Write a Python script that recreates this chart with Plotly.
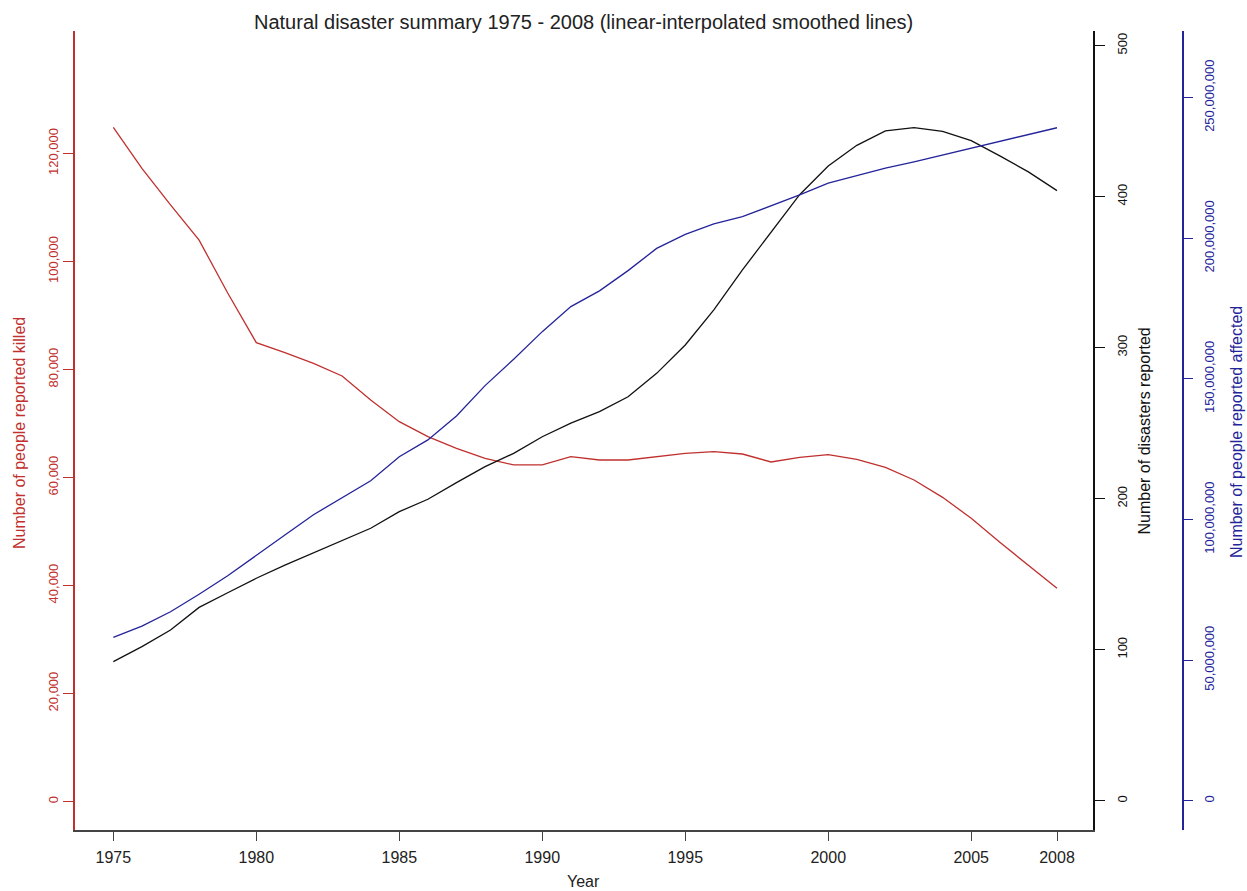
"""
Natural disaster summary 1975 - 2008, three y axes.
"""
import plotly.graph_objects as go

# Datos
years = list(range(1975, 2009))

killed = [124850, 117260, 110480, 103950, 94170, 84970, 83120, 81140, 78800, 74350,
          70340, 67560, 65410, 63560, 62320, 62320, 63850, 63240, 63240, 63850,
          64480, 64780, 64350, 62870, 63740, 64230, 63370, 61890, 59540, 56330,
          52450, 48000, 43800, 39480]

disasters = [92.1, 102, 113, 128, 137.7, 147.3, 156, 164.2, 172.6, 180.4,
             191.4, 199.6, 210.6, 221.2, 230, 241, 250, 257.6, 267.5, 283,
             301.8, 325, 351.5, 376.8, 401.3, 420.3, 434, 443.5, 445.7, 443.3,
             437.1, 427, 416.4, 404]

affected = [58.1, 62.1, 67.2, 73.4, 80.0, 87.4, 94.5, 101.7, 107.9, 113.8,
            122.3, 128.3, 136.8, 147.6, 157.0, 166.8, 175.7, 181.3, 188.5, 196.4,
            201.4, 205.1, 207.7, 211.5, 215.4, 219.6, 222.2, 224.9, 227.2, 229.6,
            232.0, 234.4, 236.8, 239.3]
affected = [v * 1e6 for v in affected]

x_ticks = [1975, 1980, 1985, 1990, 1995, 2000, 2005, 2008]
killed_ticks = [0, 20000, 40000, 60000, 80000, 100000, 120000]
disaster_ticks = [0, 100, 200, 300, 400, 500]
affected_ticks = [0, 50e6, 100e6, 150e6, 200e6, 250e6]

RED = "#c0302e"
BLACK = "#111111"
BLUE = "#24249a"
FONT = "Liberation Sans, Arial, sans-serif"

fig = go.Figure()
fig.add_trace(go.Scatter(x=years, y=killed, mode="lines", line=dict(color=RED, width=1.3),
                         yaxis="y", showlegend=False))
fig.add_trace(go.Scatter(x=years, y=disasters, mode="lines", line=dict(color=BLACK, width=1.3),
                         yaxis="y2", showlegend=False))
fig.add_trace(go.Scatter(x=years, y=affected, mode="lines", line=dict(color=BLUE, width=1.3),
                         yaxis="y3", showlegend=False))

# Ejes
fig.update_layout(
    width=1247, height=891,
    paper_bgcolor="white", plot_bgcolor="white",
    font=dict(family=FONT, color="#222"),
    margin=dict(l=75, r=64, t=31, b=61, autoexpand=False),
    xaxis=dict(domain=[0, 0.9188], range=[1973.66, 2009.26], tickvals=x_ticks,
               showline=True, linecolor="#444", linewidth=1.5, ticks="outside",
               ticklen=9, tickcolor="#444", showgrid=False, zeroline=False,
               tickfont=dict(size=16, color="#222"), ticklabelstandoff=3,
               automargin=False),
    yaxis=dict(range=[-5278, 142685], tickvals=killed_ticks, tickformat=",d",
               showline=True, linecolor=RED, linewidth=1.5, ticks="outside",
               ticklen=10, tickcolor=RED, tickangle=-90, showgrid=False,
               zeroline=False, tickfont=dict(size=13, color=RED), automargin=False),
    yaxis2=dict(range=[-19.4, 509.7], tickvals=disaster_ticks, overlaying="y",
                side="right", anchor="x", showline=True, linecolor=BLACK, linewidth=1.5,
                ticks="outside", ticklen=10, tickcolor=BLACK, tickangle=-90,
                showgrid=False, zeroline=False, tickfont=dict(size=13, color=BLACK),
                ticklabelstandoff=7, automargin=False),
    yaxis3=dict(range=[-10.4e6, 273.7e6], tickvals=affected_ticks, tickformat=",d",
                overlaying="y", side="right", anchor="free", position=1.0,
                showline=True, linecolor=BLUE, linewidth=1.5, ticks="outside",
                ticklen=9, tickcolor=BLUE, tickangle=-90, showgrid=False,
                zeroline=False, tickfont=dict(size=13, color=BLUE),
                ticklabelstandoff=6, automargin=False),
)

# Titulos
fig.add_annotation(text="Natural disaster summary 1975 - 2008 (linear-interpolated smoothed lines)",
                   xref="paper", yref="paper", x=0.4585, y=1.0113, showarrow=False,
                   font=dict(size=20, color="#222"), xanchor="center", yanchor="middle")
fig.add_annotation(text="Year", xref="paper", yref="paper", x=0.4585, y=-0.065,
                   showarrow=False, font=dict(size=16, color="#222"),
                   xanchor="center", yanchor="middle")
fig.add_annotation(text="Number of people reported killed", xref="paper", yref="paper",
                   x=-0.0496, y=0.497, textangle=-90, showarrow=False,
                   font=dict(size=16, color=RED), xanchor="center", yanchor="middle")
fig.add_annotation(text="Number of disasters reported", xref="paper", yref="paper",
                   x=0.9657, y=0.5, textangle=-90, showarrow=False,
                   font=dict(size=16, color=BLACK), xanchor="center", yanchor="middle")
fig.add_annotation(text="Number of people reported affected", xref="paper", yref="paper",
                   x=1.0478, y=0.498, textangle=-90, showarrow=False,
                   font=dict(size=16, color=BLUE), xanchor="center", yanchor="middle")

# quitar el margen del body para que la figura llene la ventana
fig.write_html("out.html", config={"displayModeBar": False},
               post_script="document.body.style.margin='0';document.body.style.overflow='hidden';")
